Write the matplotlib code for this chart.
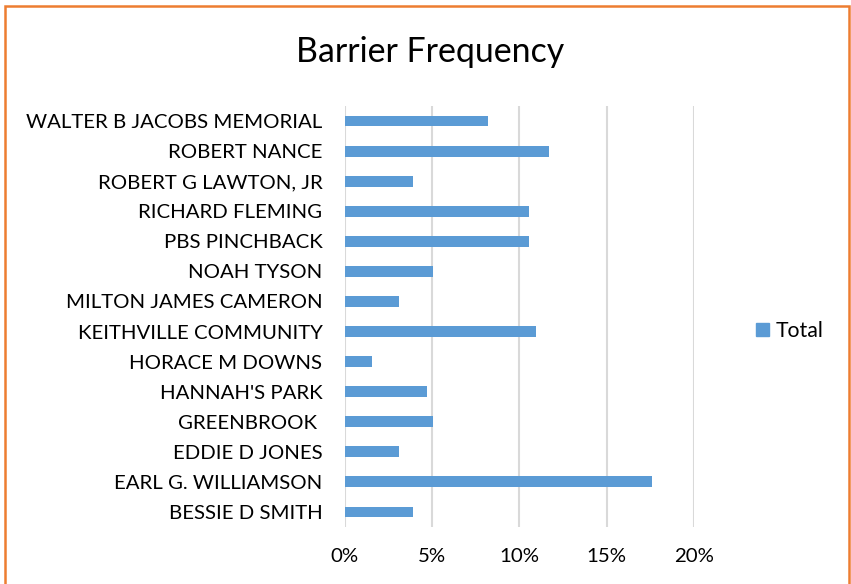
import matplotlib
matplotlib.use("Agg")
import matplotlib.pyplot as plt
from matplotlib.patches import Rectangle, Patch
from matplotlib.ticker import PercentFormatter

schools = [
    "WALTER B JACOBS MEMORIAL", "ROBERT NANCE", "ROBERT G LAWTON, JR",
    "RICHARD FLEMING", "PBS PINCHBACK", "NOAH TYSON", "MILTON JAMES CAMERON",
    "KEITHVILLE COMMUNITY", "HORACE M DOWNS", "HANNAH'S PARK", "GREENBROOK ",
    "EDDIE D JONES", "EARL G. WILLIAMSON", "BESSIE D SMITH",
]
# barrier counts per school (share of total is what gets plotted)
counts = [21, 30, 10, 27, 27, 13, 8, 28, 4, 12, 13, 8, 45, 10]
total = sum(counts)
share = [c / total for c in counts]

plt.rcParams["font.family"] = ["Lato", "DejaVu Sans"]

fig = plt.figure(figsize=(8.51, 5.84), dpi=100)
W, H = 851, 584
ax = fig.add_axes([344.7 / W, 1 - 527 / H, (694 - 344.7) / W, (527 - 106) / H])

y = list(range(len(schools)))
ax.barh(y, share, height=0.36, color="#5B9BD5")
ax.set_ylim(len(schools) - 0.5, -0.5)
ax.set_xlim(0, 0.2)
ax.set_xticks([0, 0.05, 0.10, 0.15, 0.20])
ax.xaxis.set_major_formatter(PercentFormatter(1.0, decimals=0))
ax.set_yticks(y)
ax.set_yticklabels(schools)
ax.tick_params(length=0, labelsize=14.7, colors="black")
ax.tick_params(axis="x", pad=15)
ax.tick_params(axis="y", pad=16)
ax.grid(axis="x", color="#D9D9D9", linewidth=1.5)
ax.set_axisbelow(True)
for s in ax.spines.values():
    s.set_visible(False)

fig.text(430 / W, 1 - 52 / H, "Barrier Frequency", ha="center", va="center", fontsize=24.4)

fig.legend(handles=[Patch(color="#5B9BD5", label="Total")], loc="center left",
           bbox_to_anchor=(737 / W, 1 - 331 / H), frameon=False, fontsize=15.3,
           handlelength=0.6, handleheight=0.6, handletextpad=0.3)

fig.patches.append(Rectangle((5 / W, -0.05), (849 - 5) / W, 1.05 - 6 / H,
                             transform=fig.transFigure, fill=False,
                             edgecolor="#ED7D31", linewidth=1.8))

fig.savefig("out.png", dpi=100)
